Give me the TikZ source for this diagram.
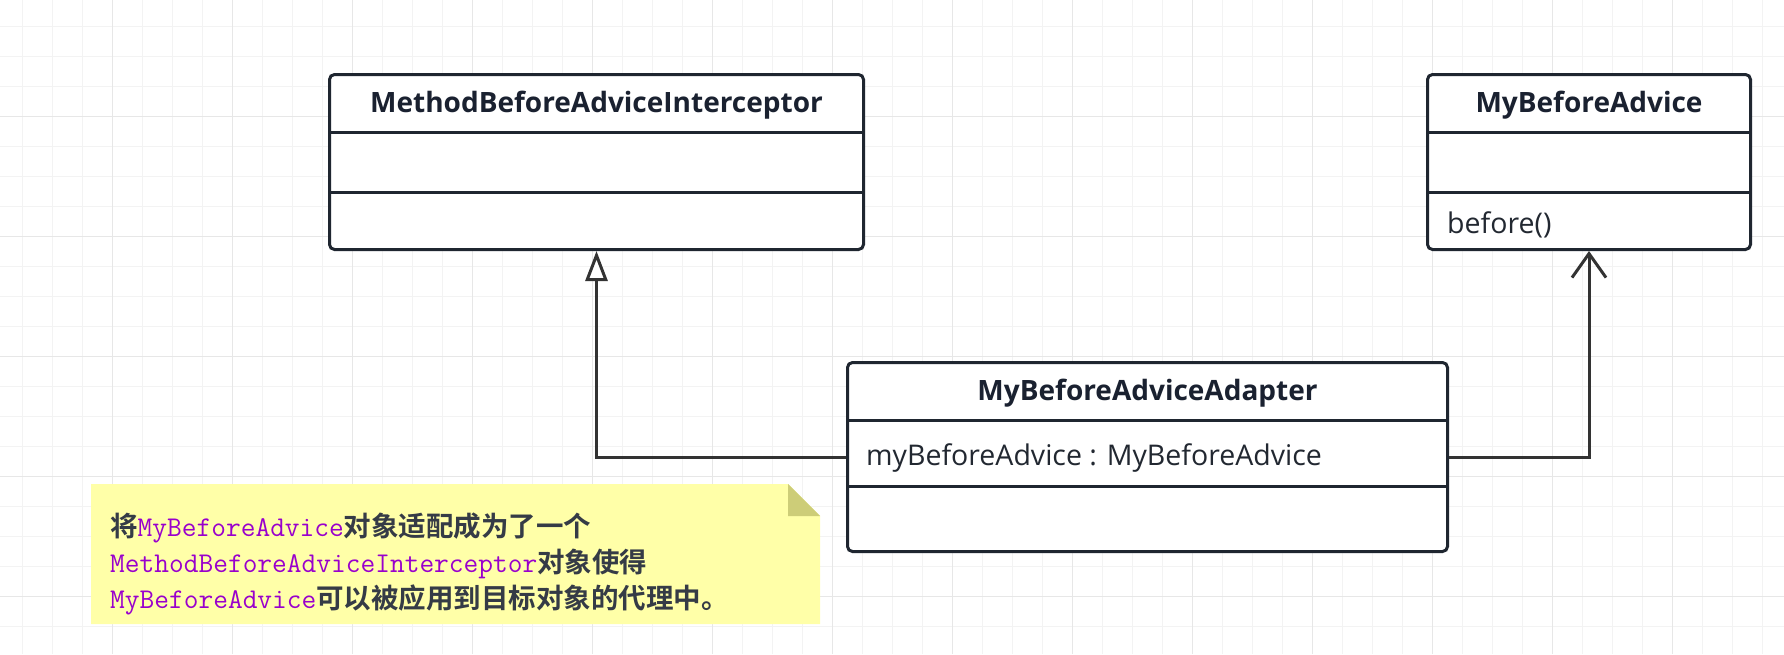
\documentclass[tikz,border=0pt]{standalone}
\usepackage{fontspec}
\setmainfont{Open Sans}
\newfontfamily\cjk{Noto Sans CJK SC}[BoldFont={Noto Sans CJK SC Bold}]
\usetikzlibrary{arrows.meta}
\definecolor{boxline}{HTML}{1F2630}
\definecolor{linkline}{HTML}{333333}
\definecolor{titletext}{HTML}{1A2130}
\definecolor{membertext}{HTML}{222831}
\definecolor{notefill}{HTML}{FFFFA8}
\definecolor{notefold}{HTML}{CDCD78}
\definecolor{codepurple}{HTML}{9900CC}
\definecolor{notetextc}{HTML}{353B46}
\definecolor{gridminor}{HTML}{F3F3F3}
\definecolor{gridmajor}{HTML}{E7E7E7}
\newcommand{\codeword}[1]{{\ttfamily\mdseries\fontsize{28.6}{36}\selectfont\color{codepurple}#1}}

\begin{document}
\begin{tikzpicture}
  [x=1pt, y=-1pt,
   classbox/.style={draw=boxline, line width=3pt, rounded corners=5pt, fill=white, inner sep=0pt},
   classrule/.style={draw=boxline, line width=3pt},
   classname/.style={font=\bfseries\fontsize{28}{34}\selectfont, text=titletext, inner sep=0pt},
   member/.style={font=\fontsize{28.5}{34}\selectfont, text=membertext, inner sep=0pt, anchor=west},
   link/.style={draw=linkline, line width=3pt},
   hollowtip/.style={-{Triangle[length=30pt, width=22pt, open, fill=white, line width=3pt]}},
   bartip/.style={-{Straight Barb[length=24pt, width=34pt]}},
   notetext/.style={font=\cjk\bfseries\fontsize{27.5}{36}\selectfont, text=notetextc,
                    align=left, inner sep=0pt, anchor=west}]
  % Setup constants
  \def\rowone{59}
  \def\rowtwo{119}
  \useasboundingbox (0,0) rectangle (1784,654);
  \fill[white] (0,0) rectangle (1784,654);

  % Background grid, minor lines first and every fourth one darker
  \foreach \i in {0,...,58} {
    \draw[gridminor, line width=1pt] (22.7+30*\i,0) -- (22.7+30*\i,654);
  }
  \foreach \j in {0,...,20} {
    \draw[gridminor, line width=1pt] (0,26.5+30*\j) -- (1784,26.5+30*\j);
  }
  \foreach \i in {0,...,14} {
    \draw[gridmajor, line width=1.3pt] (112.7+120*\i,0) -- (112.7+120*\i,654);
  }
  \foreach \j in {0,...,4} {
    \draw[gridmajor, line width=1.3pt] (0,116.5+120*\j) -- (1784,116.5+120*\j);
  }

  % The three classes
  \node[classbox, minimum width=534pt, minimum height=175pt] (interceptor) at (596.5,162) {};
  \node[classbox, minimum width=323pt, minimum height=175pt] (advice) at (1589,162) {};
  \node[classbox, minimum width=600pt, minimum height=189pt] (adapter) at (1147.5,457) {};
  \foreach \cls in {interceptor, advice} {
    \draw[classrule] ([yshift=-\rowone pt]\cls.north west) -- ([yshift=-\rowone pt]\cls.north east);
    \draw[classrule] ([yshift=-\rowtwo pt]\cls.north west) -- ([yshift=-\rowtwo pt]\cls.north east);
  }
  \draw[classrule] ([yshift=-59pt]adapter.north west) -- ([yshift=-59pt]adapter.north east);
  \draw[classrule] ([yshift=-125pt]adapter.north west) -- ([yshift=-125pt]adapter.north east);

  % Class names and members
  \node[classname] (interceptorname) at (596.5,105.5) {MethodBeforeAdviceInterceptor};
  \node[classname] (advicename) at (1589,105.5) {MyBeforeAdvice};
  \node[classname] (adaptername) at (1147.5,393.5) {MyBeforeAdviceAdapter};
  \node[member] (beforeop) at (1447,225) {before()};
  \node[member] (adviceattr) at (866,458) {myBeforeAdvice : MyBeforeAdvice};

  % Realization and association
  \draw[link, hollowtip] (adapter.west) -| (interceptor.south);
  \draw[link, bartip] (adapter.east) -| (advice.south);

  % Note with folded corner
  \fill[notefill] (91,484) -- (788,484) -- (820,516) -- (820,624) -- (91,624) -- cycle;
  \fill[notefold] (788,484) -- (820,516) -- (788,516) -- cycle;
  \node[notetext] (note) at (110,564)
    {将\codeword{MyBeforeAdvice}对象适配成为了一个\\
     \codeword{MethodBeforeAdviceInterceptor}对象使得\\
     \codeword{MyBeforeAdvice}可以被应用到目标对象的代理中。};
\end{tikzpicture}
\end{document}
